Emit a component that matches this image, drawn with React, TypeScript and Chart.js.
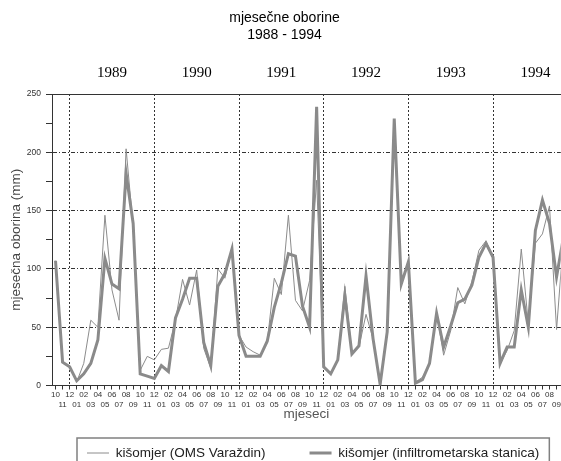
import { useEffect, useRef } from 'react';
import { Chart, registerables } from 'chart.js';

Chart.register(...registerables);

// Month labels: Oct 1988 .. Oct 1994
const monthLabels = [
  '10', '11', '12',
  '01', '02', '03', '04', '05', '06', '07', '08', '09', '10', '11', '12',
  '01', '02', '03', '04', '05', '06', '07', '08', '09', '10', '11', '12',
  '01', '02', '03', '04', '05', '06', '07', '08', '09', '10', '11', '12',
  '01', '02', '03', '04', '05', '06', '07', '08', '09', '10', '11', '12',
  '01', '02', '03', '04', '05', '06', '07', '08', '09', '10', '11', '12',
  '01', '02', '03', '04', '05', '06', '07', '08', '09', '10',
];

const yearLabels = ['1989', '1990', '1991', '1992', '1993', '1994'];

// kišomjer (OMS Varaždin) - thin line
const omsValues = [
  107, 20, 16, 3, 19, 56, 50, 146, 82, 56, 203, 136,
  13, 25, 22, 31, 32, 56, 91, 69, 99, 32, 15, 100,
  92, 118, 43, 33, 29, 26, 37, 92, 78, 146, 73, 64,
  90, 176, 16, 10, 22, 85, 28, 33, 61, 40, 2, 46,
  220, 87, 106, 3, 7, 19, 62, 26, 47, 84, 70, 89,
  116, 124, 110, 19, 30, 47, 117, 53, 122, 130, 154, 48,
  127,
];

// kišomjer (infiltrometarska stanica) - thick line
const infiltroValues = [
  107, 20, 16, 4, 10, 19, 39, 109, 87, 83, 182, 139,
  10, 8, 6, 17, 12, 58, 74, 92, 92, 37, 17, 85,
  96, 117, 43, 25, 25, 25, 38, 67, 88, 113, 111, 68,
  50, 239, 16, 10, 22, 77, 27, 34, 94, 40, 1, 46,
  229, 87, 106, 2, 5, 19, 62, 33, 51, 71, 74, 86,
  110, 122, 110, 19, 33, 33, 82, 50, 133, 159, 139, 93,
  128,
];

const SANS = '"Liberation Sans", Arial, sans-serif';
const SERIF = '"Liberation Serif", "Times New Roman", serif';
const LEGEND_PAD = 44;
const LEGEND_LEFT = 43;
const LEGEND_TEXT_Y = 453;
const X_AXIS_H = 30;
const X_TITLE_PB = X_AXIS_H - 35.5;

const legendPlace = {
  id: 'legendPlace',
  afterLayout(chart: any) {
    const lg = chart.legend;
    if (!lg) return;
    const h = lg.height;
    lg.left = LEGEND_LEFT;
    lg.right = chart.width + 60;
    lg.top = LEGEND_TEXT_Y - 6.75 - LEGEND_PAD;
    lg.bottom = lg.top + h;
  },
  afterDraw(chart: any) {
    const lg = chart.legend;
    if (!lg || !lg.legendHitBoxes || !lg.legendHitBoxes.length) return;
    const hb = lg.legendHitBoxes;
    const first = hb[0];
    const last = hb[hb.length - 1];
    const left = first.left - 10;
    const right = last.left + last.width + 10;
    const cy = first.top + first.height / 2;
    const ctx = chart.ctx;
    ctx.save();
    ctx.strokeStyle = '#808080';
    ctx.lineWidth = 1.5;
    ctx.strokeRect(left, cy - 15, right - left, 34);
    ctx.restore();
  },
};

export default function App() {
  const ref = useRef<HTMLCanvasElement>(null);

  useEffect(() => {
    document.body.style.margin = '0';
    const canvas = ref.current;
    if (!canvas) return;

    const decIdx = monthLabels
      .map((m, i) => (m === '12' ? i : -1))
      .filter((i) => i >= 0);
    const yearCenters = decIdx.map((i) => i + 6);
    const xMin = -0.5;
    const xMax = 71.6;

    const chart = new Chart(canvas, {
      type: 'line',
      data: {
        datasets: [
          {
            label: 'kišomjer (OMS Varaždin)',
            data: omsValues.map((v, i) => ({ x: i, y: v })),
            borderColor: '#8c8c8c',
            borderWidth: 1,
            pointRadius: 0,
            tension: 0,
          },
          {
            label: 'kišomjer (infiltrometarska stanica)',
            data: infiltroValues.map((v, i) => ({ x: i, y: v })),
            borderColor: '#8a8a8a',
            borderWidth: 3,
            pointRadius: 0,
            tension: 0,
          },
        ],
      },
      options: {
        responsive: false,
        animation: false,
        devicePixelRatio: 1,
        layout: { padding: { left: 8, right: 0, top: 0, bottom: 0 } },
        plugins: {
          tooltip: { enabled: false },
          title: {
            display: true,
            text: ['mjesečne oborine', '1988 - 1994'],
            color: '#000',
            font: { size: 14, family: SANS, weight: 'normal', lineHeight: 1.2 },
            padding: { top: 9.6, bottom: 19.8 },
          },
          legend: {
            display: true,
            position: 'bottom',
            fullSize: true,
            align: 'start',
            labels: {
              usePointStyle: true,
              pointStyle: 'line',
              pointStyleWidth: 22,
              padding: LEGEND_PAD,
              color: '#222',
              font: { size: 13.5, family: SANS },
              generateLabels: (ch: any) =>
                ch.data.datasets.map((ds: any, i: number) => ({
                  text: ds.label,
                  strokeStyle: ds.borderColor,
                  fillStyle: ds.borderColor,
                  lineWidth: ds.borderWidth,
                  pointStyle: 'line',
                  hidden: false,
                  datasetIndex: i,
                  fontColor: '#222',
                })),
            },
          },
        },
        scales: {
          x: {
            type: 'linear',
            position: 'bottom',
            min: xMin,
            max: xMax,
            afterBuildTicks: (s: any) => {
              s.ticks = monthLabels
                .map((_, i) => ({ value: i }))
                .filter((t) => t.value <= xMax);
            },
            afterFit: (s: any) => {
              s.height = X_AXIS_H;
            },
            ticks: {
              autoSkip: false,
              maxRotation: 0,
              minRotation: 0,
              padding: 0,
              color: '#333',
              font: { size: 8, family: SANS, lineHeight: 1.25 },
              callback: (v: any) => {
                const i = Math.round(Number(v));
                const m = monthLabels[i];
                return i % 2 === 0 ? [m, ''] : ['', m];
              },
            },
            grid: {
              color: (ctx: any) =>
                ctx.tick && monthLabels[Math.round(ctx.tick.value)] === '12'
                  ? '#333'
                  : 'rgba(0,0,0,0)',
              lineWidth: 1,
              tickColor: '#333',
              tickLength: 4,
              drawTicks: true,
            },
            border: { display: true, color: '#333', width: 1, dash: [2, 2] },
            title: {
              display: true,
              text: 'mjeseci',
              color: '#555',
              font: { size: 13.5, family: SANS, lineHeight: 1 },
              padding: { top: -2, bottom: X_TITLE_PB },
            },
          },
          x2: {
            type: 'linear',
            position: 'top',
            min: xMin,
            max: xMax,
            afterBuildTicks: (s: any) => {
              s.ticks = yearCenters.map((v) => ({ value: v }));
            },
            afterFit: (s: any) => {
              s.height = 31;
            },
            grid: { display: false },
            border: { display: true, color: '#333', width: 1 },
            ticks: {
              autoSkip: false,
              maxRotation: 0,
              minRotation: 0,
              padding: 4,
              color: '#000',
              font: { size: 15, family: SERIF, lineHeight: 1.2 },
              callback: (_v: any, i: number) => yearLabels[i],
            },
          },
          y: {
            type: 'linear',
            min: 0,
            max: 250,
            afterFit: (s: any) => {
              s.width = 44;
            },
            ticks: {
              stepSize: 25,
              padding: 5,
              color: '#333',
              font: { size: 8.5, family: SANS },
              callback: (v: any) => (Number(v) % 50 === 0 ? String(v) : ''),
            },
            grid: {
              color: (ctx: any) => {
                const v = ctx.tick ? ctx.tick.value : -1;
                return v > 0 && v < 250 && v % 50 === 0 ? '#333' : 'rgba(0,0,0,0)';
              },
              lineWidth: 1,
              tickColor: '#333',
              tickLength: 6,
            },
            border: { display: true, color: '#333', width: 1, dash: [4, 2, 1, 2] },
            title: {
              display: true,
              text: 'mjesečna oborina (mm)',
              color: '#444',
              font: { size: 13.5, family: SANS, lineHeight: 1.2 },
              padding: { top: 0, bottom: 0 },
            },
          },
        },
      },
      plugins: [legendPlace],
    } as any);

    return () => chart.destroy();
  }, []);

  return (
    <div style={{ width: 561, height: 461, overflow: 'hidden', position: 'relative' }}>
      <canvas ref={ref} width={561} height={483} style={{ display: 'block' }} />
    </div>
  );
}
